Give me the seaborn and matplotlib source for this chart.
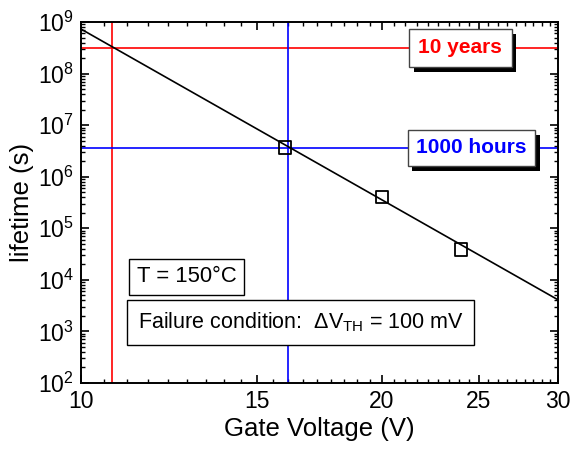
import numpy as np
import pandas as pd
import matplotlib
matplotlib.use("Agg")
import matplotlib.pyplot as plt
import matplotlib.patheffects as pe
from matplotlib.ticker import FixedLocator, FixedFormatter, LogLocator, NullFormatter
import seaborn as sns

# Measured lifetimes at each stress voltage
gate_voltage = [16, 20, 24]
lifetime_s = [3.7e6, 4.0e5, 3.9e4]

# Power-law extrapolation endpoints
fit_voltage = [10, 30]
fit_lifetime = [7.3e8, 4.1e3]

# Lifetime targets and the voltages where the fit reaches them
ten_years_s = 3.16e8
thousand_hours_s = 3.6e6
v_ten_years = 10.74
v_thousand_hours = 16.1

x_ticks = [10, 15, 20, 25, 30]
x_ticklabels = ["10", "15", "20", "25", "30"]

sns.set_theme(style="ticks")
plt.rcParams["font.family"] = ["Liberation Sans", "DejaVu Sans"]
plt.rcParams["mathtext.fontset"] = "custom"
plt.rcParams["mathtext.rm"] = "Liberation Sans"
plt.rcParams["mathtext.it"] = "Liberation Sans:italic"
plt.rcParams["mathtext.bf"] = "Liberation Sans:bold"
for key in ["text.color", "axes.labelcolor", "xtick.color", "ytick.color", "axes.edgecolor"]:
    plt.rcParams[key] = "black"

fig = plt.figure(figsize=(5.7, 4.51), dpi=100)
ax = fig.add_axes([0.1421, 0.1508, 0.8369, 0.8004])

ax.set_xscale("log")
ax.set_yscale("log")
ax.set_xlim(10, 30)
ax.set_ylim(1e2, 1e9)

# Reference lines
ax.axhline(ten_years_s, color="#ff0000", lw=1.2, zorder=1)
ax.axvline(v_ten_years, color="#ff0000", lw=1.2, zorder=1)
ax.axhline(thousand_hours_s, color="#0000ff", lw=1.2, zorder=1)
ax.axvline(v_thousand_hours, color="#0000ff", lw=1.2, zorder=1)

fit_df = pd.DataFrame({"V": fit_voltage, "t": fit_lifetime})
sns.lineplot(data=fit_df, x="V", y="t", ax=ax, color="black", lw=1.2, zorder=2)

pts = pd.DataFrame({"V": gate_voltage, "t": lifetime_s})
sns.scatterplot(data=pts, x="V", y="t", ax=ax, marker="s", s=80,
                facecolor="none", edgecolor="black", linewidth=1.3, zorder=3)

# Axis ticks
ax.xaxis.set_major_locator(FixedLocator(x_ticks))
ax.xaxis.set_major_formatter(FixedFormatter(x_ticklabels))
minor_x = np.concatenate([np.linspace(a, a + 5, 10)[1:-1] for a in x_ticks[:-1]])
ax.xaxis.set_minor_locator(FixedLocator(minor_x))
ax.xaxis.set_minor_formatter(NullFormatter())
ax.yaxis.set_major_locator(LogLocator(base=10, numticks=20))
ax.yaxis.set_minor_locator(LogLocator(base=10, subs=np.arange(2, 10), numticks=20))
ax.yaxis.set_minor_formatter(NullFormatter())

ax.tick_params(which="both", direction="in", top=True, right=True, color="black")
ax.tick_params(which="major", length=6, width=1.2, labelsize=16.5, pad=5)
ax.tick_params(which="minor", length=3, width=1.0)
for s in ax.spines.values():
    s.set_linewidth(1.4)
    s.set_color("black")

ax.set_xlabel("Gate Voltage (V)", fontsize=18.5, labelpad=3)
ax.set_ylabel("lifetime (s)", fontsize=18.5, labelpad=3)

shadow = [pe.withSimplePatchShadow(offset=(3.5, -3.5), shadow_rgbFace="black", alpha=1.0)]

t1 = ax.text(0.795, 0.928, "10 years", transform=ax.transAxes, ha="center", va="center",
             fontsize=15, fontweight="bold", color="#ff0000", zorder=5,
             bbox=dict(boxstyle="square,pad=0.45", fc="white", ec="#444444", lw=1.0))
t2 = ax.text(0.818, 0.651, "1000 hours", transform=ax.transAxes, ha="center", va="center",
             fontsize=15, fontweight="bold", color="#0000ff", zorder=5,
             bbox=dict(boxstyle="square,pad=0.4", fc="white", ec="#444444", lw=1.0))
t1.get_bbox_patch().set_path_effects(shadow)
t2.get_bbox_patch().set_path_effects(shadow)

ax.text(0.117, 0.294, "T = 150°C", transform=ax.transAxes, ha="left", va="center",
        fontsize=15.8, color="black", zorder=5,
        bbox=dict(boxstyle="square,pad=0.35", fc="white", ec="black", lw=1.0))
ax.text(0.119, 0.1676, r"Failure condition:  $\Delta$V$_{\mathrm{TH}}$ = 100 mV",
        transform=ax.transAxes, ha="left", va="center",
        fontsize=15.5, color="black", zorder=5,
        bbox=dict(boxstyle="square,pad=0.5", fc="white", ec="black", lw=1.0))

fig.savefig("out.png", dpi=100)
